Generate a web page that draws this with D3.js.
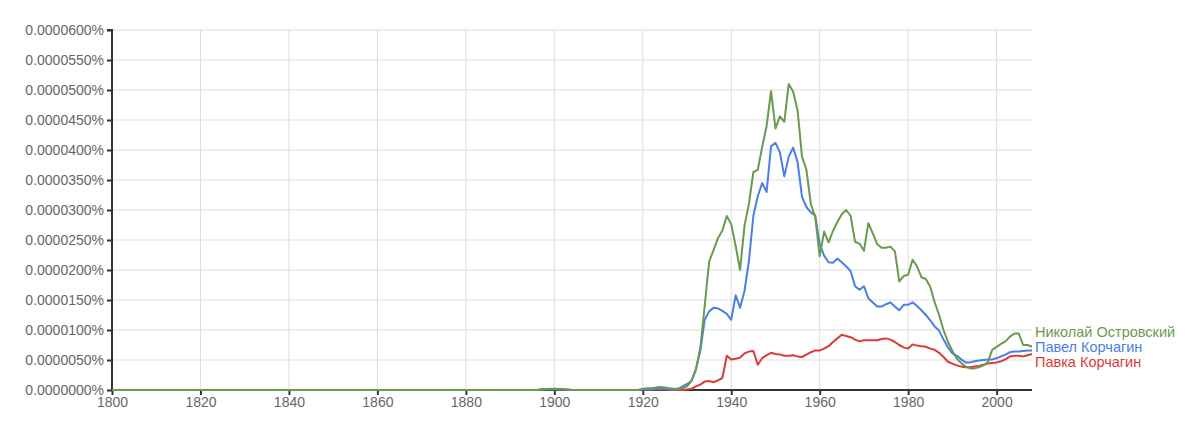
<!DOCTYPE html>
<html><head><meta charset="utf-8">
<script src="https://cdn.jsdelivr.net/npm/d3@7"></script>
<style>
html,body{margin:0;padding:0;background:#fff;}
svg{display:block;font-family:"Liberation Sans",Arial,sans-serif;}
</style></head>
<body><svg id="c" width="1200" height="428"></svg>
<script>
const years = [1800,1896,1898,1900,1902,1904,1917,
 1919,1920,1921,1922,1923,1924,1925,1926,1927,1928,1929,
 1930,1931,1932,1933,1934,1935,1936,1937,1938,1939,
 1940,1941,1942,1943,1944,1945,1946,1947,1948,1949,
 1950,1951,1952,1953,1954,1955,1956,1957,1958,1959,
 1960,1961,1962,1963,1964,1965,1966,1967,1968,1969,
 1970,1971,1972,1973,1974,1975,1976,1977,1978,1979,
 1980,1981,1982,1983,1984,1985,1986,1987,1988,1989,
 1990,1991,1992,1993,1994,1995,1996,1997,1998,1999,
 2000,2001,2002,2003,2004,2005,2006,2007,2008];
// values in units of 0.000001 %
const nikolay = [0,0,0.15,0.2,0.15,0,0,
 0,0.2,0.3,0.3,0.4,0.5,0.4,0.3,0.2,0.2,0.3,
 0.6,1.5,3.3,7.0,14.0,21.4,23.3,25.3,26.6,29.0,
 27.6,24.0,20.0,27.4,31.0,36.3,36.7,40.5,44.0,49.8,
 43.6,45.6,44.7,51.0,49.7,46.6,38.9,36.7,31.0,28.8,
 22.3,26.4,24.6,26.5,28.0,29.3,30.0,29.0,24.7,24.4,
 23.2,27.8,26.1,24.3,23.7,23.7,23.9,23.1,18.1,19.0,
 19.2,21.7,20.6,18.8,18.5,17.2,14.6,12.5,10.0,8.0,
 6.5,5.2,4.5,3.9,3.6,3.6,3.8,4.1,4.6,6.7,
 7.2,7.7,8.1,8.9,9.4,9.4,7.5,7.5,7.2];
const pavel = [0,0,0.1,0.1,0.1,0,0,
 0,0.1,0.1,0.1,0.2,0.2,0.2,0.1,0.1,0.2,0.6,
 1.0,1.5,3.5,6.5,11.7,13.1,13.7,13.6,13.2,12.7,
 11.7,15.8,13.7,16.5,21.5,29.0,32.3,34.5,33.0,40.6,
 41.2,39.6,35.6,38.9,40.4,38.0,32.2,30.5,29.6,29.1,
 24.3,22.4,21.3,21.2,21.9,21.3,20.6,19.8,17.3,16.7,
 17.3,15.3,14.6,13.9,13.9,14.3,14.6,13.9,13.3,14.2,
 14.2,14.6,14.0,13.3,12.5,11.6,10.6,9.9,8.4,7.1,
 6.1,5.7,5.1,4.6,4.6,4.8,4.9,5.0,5.1,5.1,
 5.3,5.6,5.9,6.3,6.4,6.4,6.5,6.6,6.6];
const pavka = [0,0,0.15,0.15,0.1,0,0,
 0,0.1,0.1,0.1,0.1,0.1,0.1,0.1,0,0,0,
 0.1,0.2,0.6,0.9,1.4,1.5,1.3,1.6,2.0,5.7,
 5.1,5.2,5.4,6.1,6.4,6.5,4.2,5.3,5.8,6.2,
 6.0,5.9,5.7,5.7,5.8,5.6,5.5,5.9,6.3,6.6,
 6.6,6.9,7.3,8.0,8.6,9.2,9.0,8.8,8.4,8.1,
 8.3,8.3,8.3,8.3,8.5,8.6,8.4,8.0,7.5,7.1,
 6.9,7.6,7.4,7.3,7.2,6.9,6.7,6.2,5.5,4.7,
 4.4,4.1,3.9,3.8,3.8,3.9,4.0,4.2,4.4,4.5,
 4.6,4.8,5.1,5.6,5.7,5.7,5.6,5.8,6.0];
const seriesNames = ["Николай Островский","Павел Корчагин","Павка Корчагин"];
const seriesColors = ["#6a9a50","#4a7fe6","#dc3b35"];
const xTicks = [1800,1820,1840,1860,1880,1900,1920,1940,1960,1980,2000];
const yTicks = [0,5,10,15,20,25,30,35,40,45,50,55,60];
const footNote = "(click on line/label for focus)";

const svg = d3.select("#c");
const x = d3.scaleLinear().domain([1800,2008]).range([112,1032]);
const y = d3.scaleLinear().domain([0,60]).range([390,30]);

// grid
svg.append("g").selectAll("line").data(yTicks.filter(d=>d>0)).join("line")
  .attr("x1",112).attr("x2",1032).attr("y1",d=>y(d)).attr("y2",d=>y(d))
  .attr("stroke","#dddddd").attr("stroke-width",1);
svg.append("g").selectAll("line").data(xTicks.filter(d=>d>1800)).join("line")
  .attr("x1",d=>x(d)).attr("x2",d=>x(d)).attr("y1",30).attr("y2",390)
  .attr("stroke","#dddddd").attr("stroke-width",1);

// axes
const yAxis = d3.axisLeft(y).tickValues(yTicks).tickSize(5).tickPadding(3)
  .tickFormat(d=>(d*1e-6).toFixed(7)+"%");
const gy = svg.append("g").attr("transform","translate(112,0)").call(yAxis);
gy.select(".domain").attr("stroke","#333").attr("stroke-width",2).attr("d","M-5,30H0V391");
gy.selectAll(".tick line").attr("stroke","#333").attr("stroke-width",2);
gy.selectAll(".tick text").attr("fill","#666").attr("font-size",14).attr("font-family","Liberation Sans, Arial, sans-serif");

const xAxis = d3.axisBottom(x).tickValues(xTicks).tickSize(5).tickPadding(2).tickFormat(d3.format("d"));
const gx = svg.append("g").attr("transform","translate(0,390)").call(xAxis);
gx.select(".domain").attr("stroke","#333").attr("stroke-width",2).attr("d","M112,0H1032");
gx.selectAll(".tick line").attr("stroke","#333").attr("stroke-width",2);
gx.selectAll(".tick text").attr("fill","#666").attr("font-size",14).attr("font-family","Liberation Sans, Arial, sans-serif");

// lines
const all = [nikolay,pavel,pavka];
const line = d3.line().x((d,i)=>x(years[i])).y(d=>y(d));
[2,1,0].forEach(k=>{
  svg.append("path").datum(all[k]).attr("d",line)
    .attr("fill","none").attr("stroke",seriesColors[k]).attr("stroke-width",2)
    .attr("stroke-linejoin","round");
});

// labels
const baseY = y(pavel[pavel.length-1]) - 3;
seriesNames.forEach((n,i)=>{
  svg.append("text").attr("x",1035).attr("y",baseY+(i-1)*15)
    .attr("dominant-baseline","central").attr("font-size",14.5)
    .attr("fill",seriesColors[i]).text(n);
});

svg.append("text").attr("x",572).attr("y",436).attr("text-anchor","middle")
  .attr("font-size",11).attr("fill","#888").text(footNote);
</script></body></html>
